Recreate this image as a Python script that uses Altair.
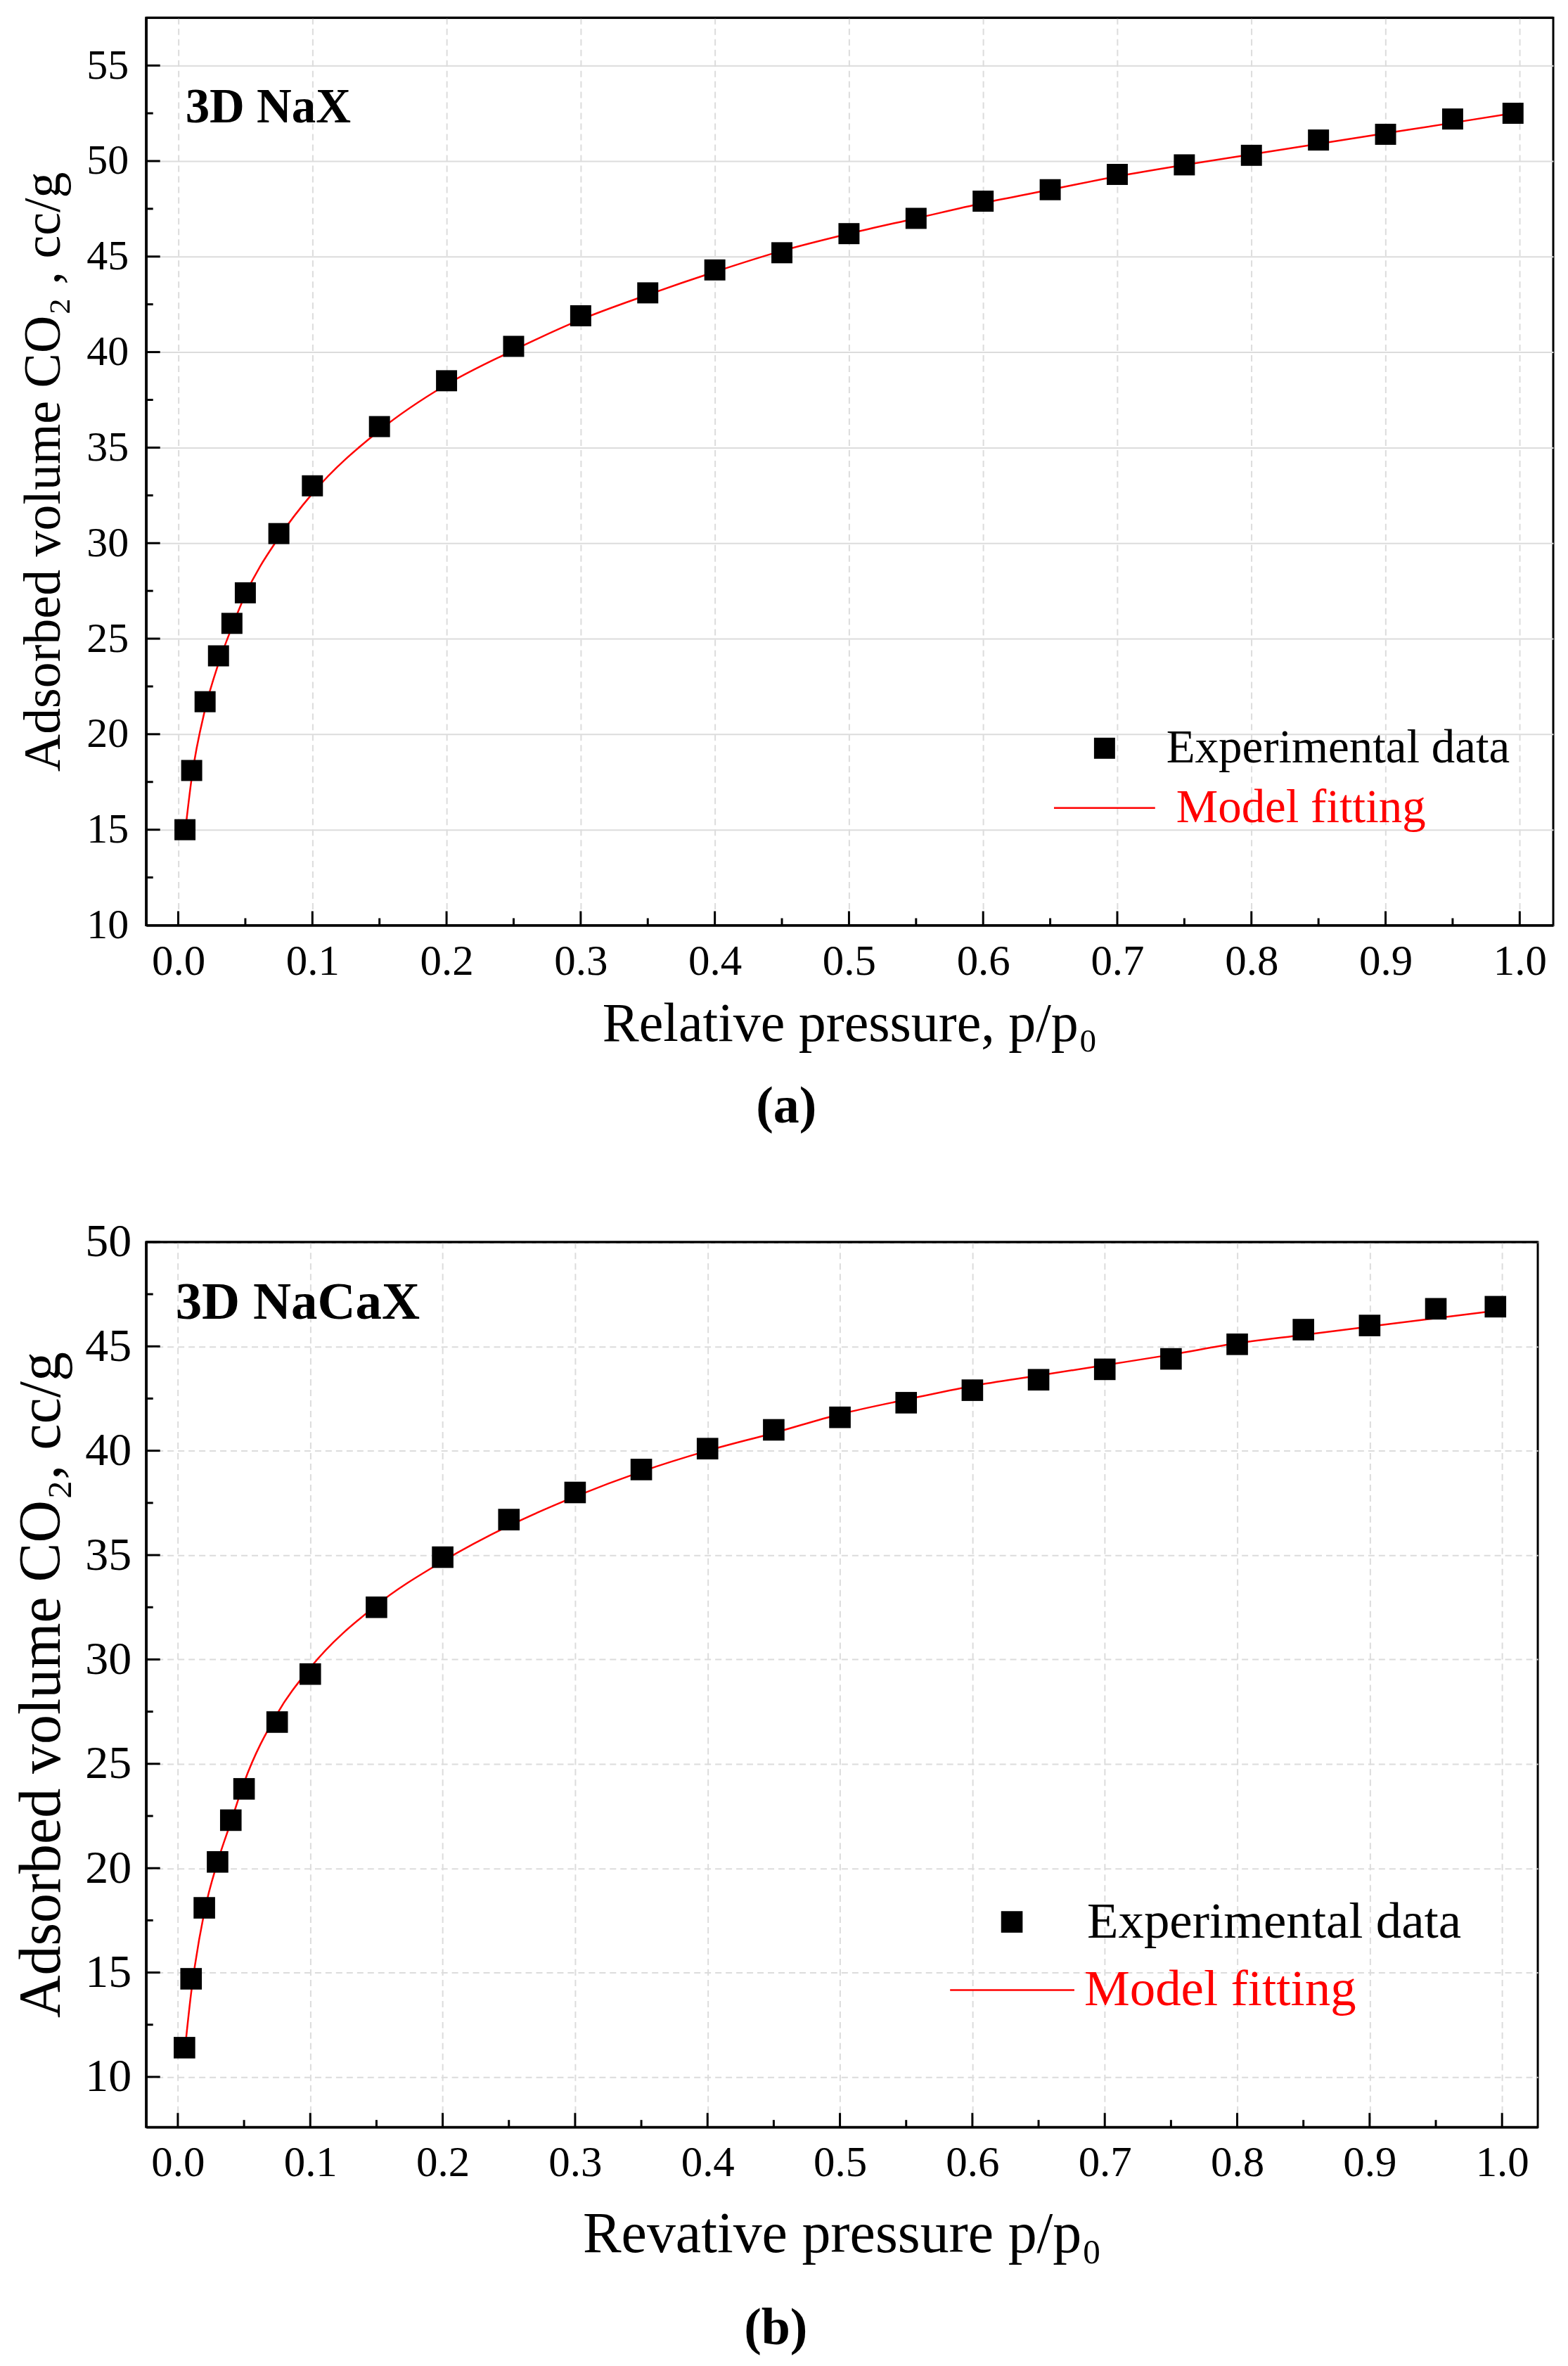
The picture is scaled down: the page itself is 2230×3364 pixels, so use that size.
import altair as alt
import pandas as pd

FONT = "Liberation Serif"

# relative pressure p/p0 (same grid for both samples)
pressure = [0.005, 0.01, 0.02, 0.03, 0.04, 0.05, 0.075, 0.1, 0.15, 0.2, 0.25, 0.3, 0.35,
            0.4, 0.45, 0.5, 0.55, 0.6, 0.65, 0.7, 0.75, 0.8, 0.85, 0.9, 0.95, 0.995]

# (a) 3D NaX
nax_exp = [15.0, 18.1, 21.7, 24.1, 25.8, 27.4, 30.5, 33.0, 36.1, 38.5, 40.3, 41.9, 43.1,
           44.3, 45.2, 46.2, 47.0, 47.9, 48.5, 49.3, 49.8, 50.3, 51.1, 51.4, 52.2, 52.5]
nax_fit = [14.8, 17.7, 21.3, 23.7, 25.6, 27.3, 30.3, 32.6, 35.9, 38.3, 40.1, 41.7, 43.0,
           44.2, 45.3, 46.2, 47.0, 47.8, 48.5, 49.2, 49.8, 50.35, 50.9, 51.45, 52.0, 52.5]

# (b) 3D NaCaX
nacax_exp = [11.4, 14.7, 18.1, 20.3, 22.3, 23.8, 27.0, 29.3, 32.5, 34.9, 36.7, 38.0, 39.1,
             40.1, 41.0, 41.6, 42.3, 42.9, 43.4, 43.9, 44.4, 45.1, 45.8, 46.0, 46.8, 46.9]
nacax_fit = [11.1, 14.0, 17.9, 20.3, 22.2, 24.1, 27.4, 29.6, 32.6, 34.7, 36.4, 37.8, 39.0,
             40.0, 40.85, 41.75, 42.45, 43.1, 43.6, 44.1, 44.6, 45.15, 45.55, 45.95, 46.35, 46.7]

x_major = [0.0, 0.1, 0.2, 0.3, 0.4, 0.5, 0.6, 0.7, 0.8, 0.9, 1.0]
x_minor = [0.05, 0.15, 0.25, 0.35, 0.45, 0.55, 0.65, 0.75, 0.85, 0.95]
y_major_a = [10, 15, 20, 25, 30, 35, 40, 45, 50, 55]
y_minor_a = [12.5, 17.5, 22.5, 27.5, 32.5, 37.5, 42.5, 47.5, 52.5]
y_major_b = [10, 15, 20, 25, 30, 35, 40, 45, 50]
y_minor_b = [12.5, 17.5, 22.5, 27.5, 32.5, 37.5, 42.5, 47.5]


def panel(exp, fit, cfg):
    w, h = cfg["width"], cfg["height"]
    xs = alt.Scale(domain=cfg["xdom"], nice=False, zero=False)
    ys = alt.Scale(domain=cfg["ydom"], nice=False, zero=False)

    data = pd.DataFrame({"p": pressure, "v": exp, "fit": fit})

    x_axis = alt.Axis(
        values=x_major, format=".1f", title=cfg["xtitle"], ticks=False,
        domainColor="black", domainWidth=3.5, grid=True, gridColor="#dcdcdc",
        gridWidth=2, gridDash=[9, 6], labelFont=FONT, labelFontSize=cfg["xlab"],
        labelColor="black", labelPadding=cfg["xpad"], titleFont=FONT,
        titleFontSize=cfg["xtitle_size"], titleFontWeight="normal", titleColor="black",
        titlePadding=cfg["xtitle_pad"], labelFlush=False,
    )
    y_axis = alt.Axis(
        values=cfg["ymajor"], format="d", title=cfg["ytitle"], ticks=False,
        domainColor="black", domainWidth=3.5, grid=True, gridColor="#dcdcdc",
        gridWidth=2, gridDash=cfg["ygrid_dash"], labelFont=FONT,
        labelFontSize=cfg["ylab"], labelColor="black", labelPadding=cfg["ypad"],
        titleFont=FONT, titleFontSize=cfg["ytitle_size"], titleFontWeight="normal",
        titleColor="black", titlePadding=cfg["ytitle_pad"], labelFlush=False,
    )

    def xenc(field):
        return alt.X(field, scale=xs, axis=x_axis)

    def yenc(field):
        return alt.Y(field, scale=ys, axis=y_axis)

    fit_line = alt.Chart(data).mark_line(color="#ff0000", strokeWidth=2.5, interpolate="monotone").encode(
        x=xenc("p:Q"), y=yenc("fit:Q"),
    )
    points = alt.Chart(data).mark_square(color="black", opacity=1, size=cfg["msize"]).encode(
        x=xenc("p:Q"), y=yenc("v:Q"),
    )

    xt_major = pd.DataFrame({"t": x_major})
    xt_minor = pd.DataFrame({"t": x_minor})
    yt_major = pd.DataFrame({"t": cfg["ymajor"]})
    yt_minor = pd.DataFrame({"t": cfg["yminor"]})
    x_ticks_major = alt.Chart(xt_major).mark_rule(color="black", strokeWidth=3).encode(
        x=xenc("t:Q"), y=alt.value(h), y2=alt.value(h - 20))
    x_ticks_minor = alt.Chart(xt_minor).mark_rule(color="black", strokeWidth=3).encode(
        x=xenc("t:Q"), y=alt.value(h), y2=alt.value(h - 10))
    y_ticks_major = alt.Chart(yt_major).mark_rule(color="black", strokeWidth=3).encode(
        y=yenc("t:Q"), x=alt.value(0), x2=alt.value(20))
    y_ticks_minor = alt.Chart(yt_minor).mark_rule(color="black", strokeWidth=3).encode(
        y=yenc("t:Q"), x=alt.value(0), x2=alt.value(10))

    one = pd.DataFrame({"k": [0]})
    # top frame edge drawn over the gridline that sits on it
    top_edge = alt.Chart(one).mark_rule(color="black", strokeWidth=3).encode(
        x=alt.value(0), x2=alt.value(w), y=alt.value(0))

    lx = cfg["leg"]
    sample = alt.Chart(one).mark_text(
        text=cfg["label"], font=FONT, fontSize=cfg["label_size"], fontWeight="bold",
        align="left", baseline="alphabetic", color="black",
    ).encode(x=alt.value(cfg["label_xy"][0]), y=alt.value(cfg["label_xy"][1]))
    leg_sq = alt.Chart(one).mark_square(color="black", opacity=1, size=cfg["msize"]).encode(
        x=alt.value(lx["sq"][0]), y=alt.value(lx["sq"][1]))
    leg_t1 = alt.Chart(one).mark_text(
        text="Experimental data", font=FONT, fontSize=cfg["leg_size"], align="left",
        baseline="middle", color="black",
    ).encode(x=alt.value(lx["t1"][0]), y=alt.value(lx["t1"][1]))
    leg_ln = alt.Chart(one).mark_rule(color="#ff0000", strokeWidth=2.5).encode(
        x=alt.value(lx["ln"][0]), x2=alt.value(lx["ln"][1]), y=alt.value(lx["ln"][2]))
    leg_t2 = alt.Chart(one).mark_text(
        text="Model fitting", font=FONT, fontSize=cfg["leg_size"], align="left",
        baseline="middle", color="#ff0000",
    ).encode(x=alt.value(lx["t2"][0]), y=alt.value(lx["t2"][1]))

    return alt.layer(
        fit_line, points, x_ticks_major, x_ticks_minor, y_ticks_major, y_ticks_minor,
        top_edge, sample, leg_sq, leg_t1, leg_ln, leg_t2,
    ).properties(
        width=w, height=h,
        title=alt.TitleParams(
            cfg["tag"], orient="bottom", anchor="middle", frame="bounds", font=FONT,
            fontSize=74, fontWeight="bold", color="black", offset=cfg["tag_offset"],
        ),
    )


chart_a = panel(nax_exp, nax_fit, {
    "width": 2004, "height": 1292, "xdom": [-0.024, 1.025], "ydom": [10, 57.5],
    "ymajor": y_major_a, "yminor": y_minor_a, "ygrid_dash": [],
    "xtitle": "Relative pressure, p/p₀", "ytitle": "Adsorbed volume CO₂ , cc/g",
    "xlab": 61, "ylab": 60, "xpad": 22, "ypad": 25, "xtitle_size": 78, "ytitle_size": 74,
    "xtitle_pad": 20, "ytitle_pad": 22, "msize": 900,
    "label": "3D NaX", "label_size": 69, "label_xy": (56, 149),
    "leg": {"sq": (1365, 1040), "t1": (1453, 1040), "ln": (1293, 1437, 1125), "t2": (1467, 1125)},
    "leg_size": 67, "tag": "(a)", "tag_offset": 43,
})

chart_b = panel(nacax_exp, nacax_fit, {
    "width": 1982, "height": 1260, "xdom": [-0.024, 1.027], "ydom": [7.6, 50],
    "ymajor": y_major_b, "yminor": y_minor_b, "ygrid_dash": [9, 6],
    "xtitle": "Revative pressure p/p₀", "ytitle": "Adsorbed volume CO₂, cc/g",
    "xlab": 61, "ylab": 66, "xpad": 21, "ypad": 21, "xtitle_size": 82, "ytitle_size": 84,
    "xtitle_pad": 32, "ytitle_pad": 18, "msize": 940,
    "label": "3D NaCaX", "label_size": 75, "label_xy": (42, 109),
    "leg": {"sq": (1233, 968), "t1": (1340, 968), "ln": (1145, 1322, 1065), "t2": (1336, 1065)},
    "leg_size": 73, "tag": "(b)", "tag_offset": 57,
})

chart = alt.vconcat(chart_a, chart_b, spacing=118).properties(
    padding={"left": 8, "top": 12, "right": 10, "bottom": 0},
    background="white",
).configure_view(
    stroke="black", strokeWidth=3,
)

chart.save("out.html", embed_options={"renderer": "svg", "actions": False})
